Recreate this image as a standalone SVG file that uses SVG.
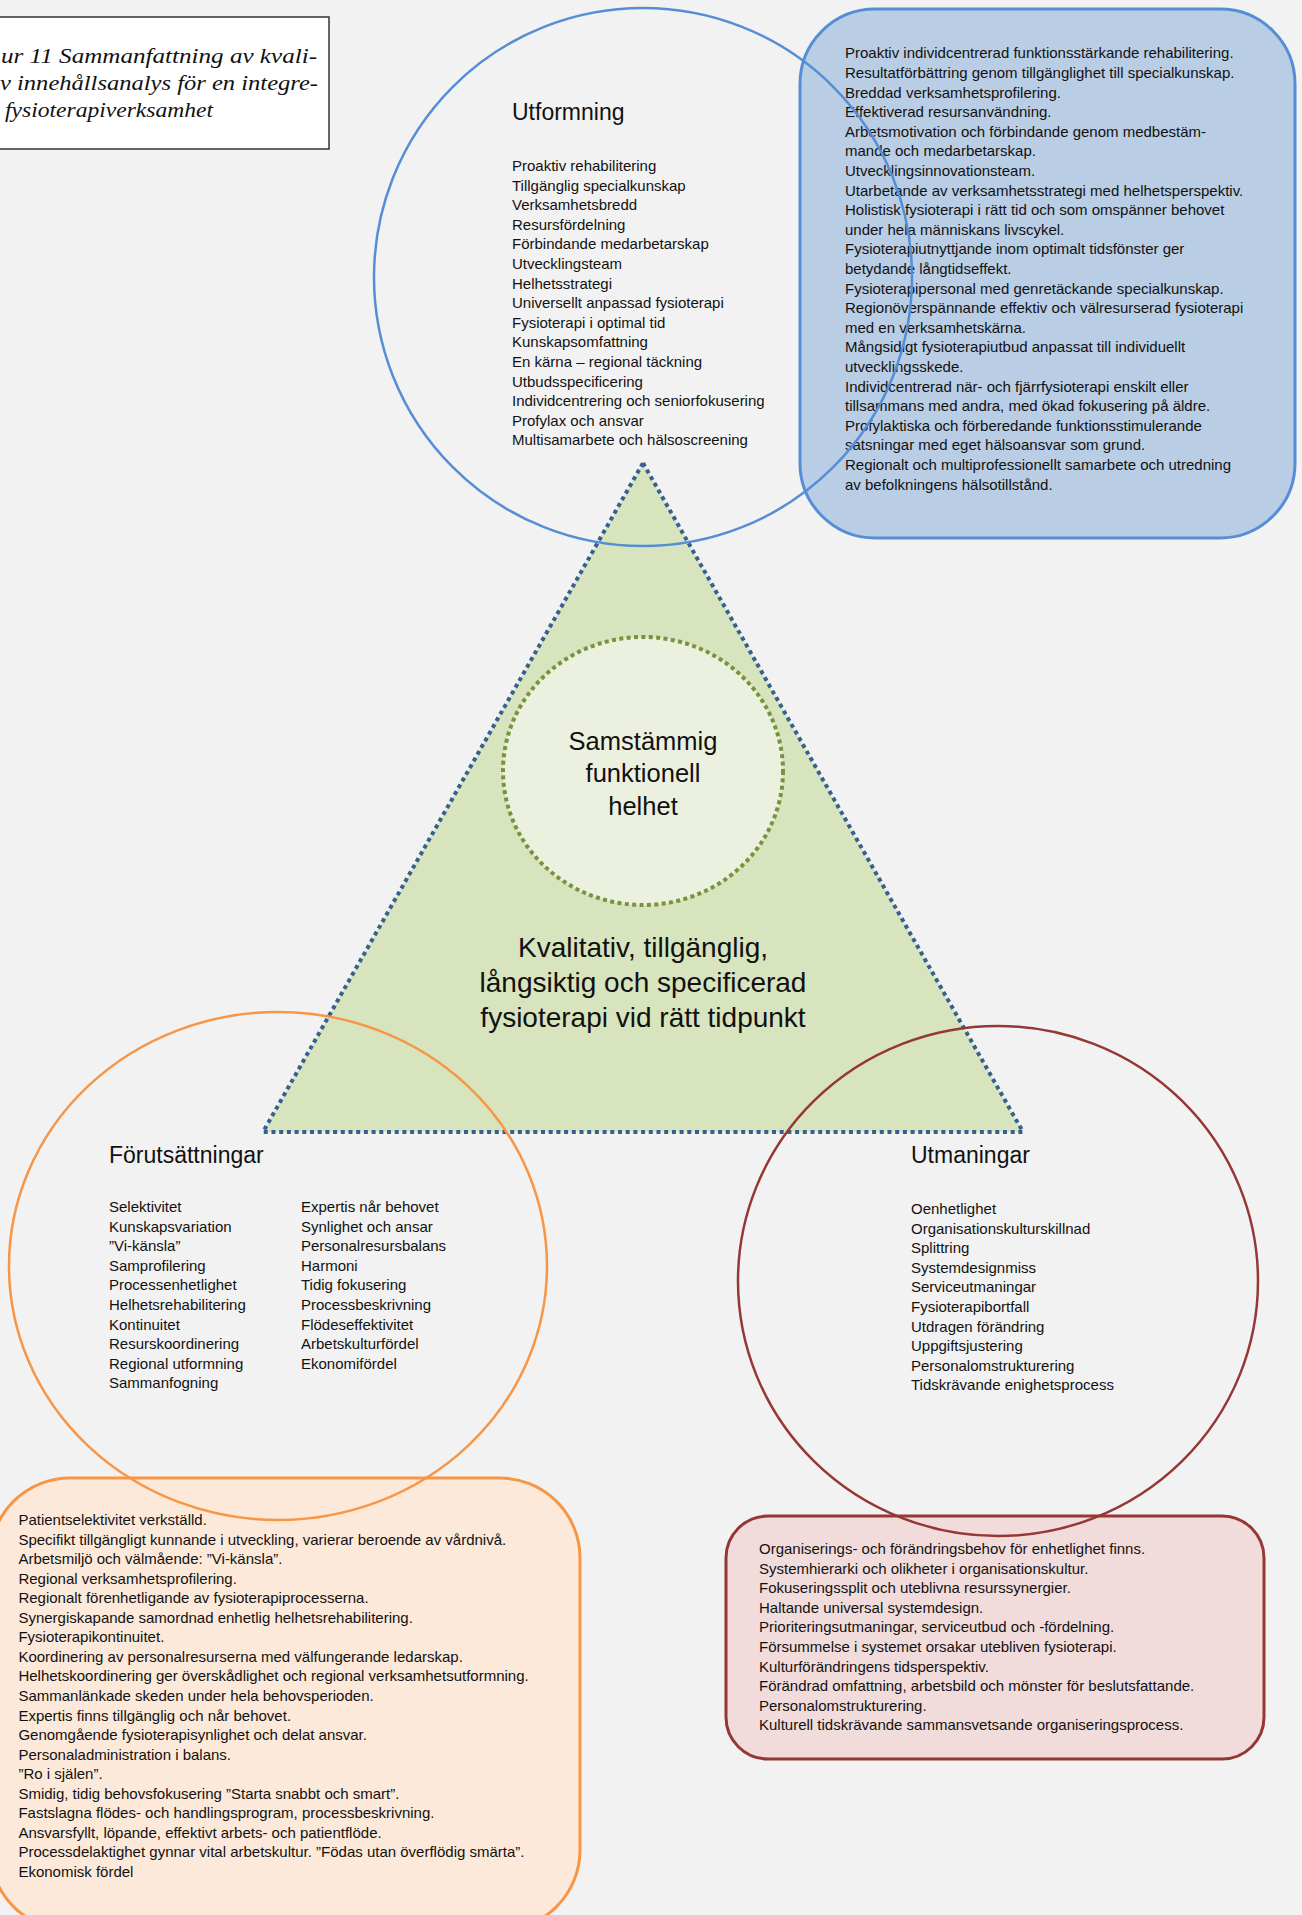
<svg xmlns="http://www.w3.org/2000/svg" width="1302" height="1915" viewBox="0 0 1302 1915">
<style>
.body{font-family:"Liberation Sans",Arial,sans-serif;font-size:15px;fill:#111}
.title{font-family:"Liberation Sans",Arial,sans-serif;font-size:23px;fill:#111}
.big{font-family:"Liberation Sans",Arial,sans-serif;font-size:28px;fill:#111;text-anchor:middle}
.mid{font-family:"Liberation Sans",Arial,sans-serif;font-size:25.5px;fill:#111;text-anchor:middle}
.cap{font-family:"Liberation Serif","Times New Roman",serif;font-style:italic;font-size:22px;fill:#111}
.ring{fill:none;stroke-width:2.5}
</style>
<rect x="0" y="0" width="1302" height="1915" fill="#F2F2F2"/>

<g id="caption">
<rect x="-10" y="17" width="339" height="132" fill="#FFFFFF" stroke="#333333" stroke-width="1.5"/>
<text class="cap" x="1" y="63" textLength="316" lengthAdjust="spacingAndGlyphs">ur 11 Sammanfattning av kvali-</text>
<text class="cap" x="0" y="90" textLength="318" lengthAdjust="spacingAndGlyphs">v innehållsanalys för en integre-</text>
<text class="cap" x="5" y="117" textLength="208" lengthAdjust="spacingAndGlyphs">fysioterapiverksamhet</text>
</g>

<g id="kvalitativ-triangle">
<polygon points="643,463 1023,1132 263,1132" fill="#D7E4BD" stroke="#35608F" stroke-width="4" stroke-dasharray="4 3.7"/>
<text class="big" x="643" y="957">Kvalitativ, tillgänglig,</text>
<text class="big" x="643" y="992">långsiktig och specificerad</text>
<text class="big" x="643" y="1027">fysioterapi vid rätt tidpunkt</text>
</g>

<g id="samstammig-helhet">
<ellipse cx="643" cy="771" rx="140" ry="134" fill="#EBF1DE" stroke="#77933C" stroke-width="4" stroke-dasharray="4 3.4"/>
<text class="mid" x="643" y="750">Samstämmig</text>
<text class="mid" x="643" y="782">funktionell</text>
<text class="mid" x="643" y="815">helhet</text>
</g>

<g id="utformning-detail">
<rect x="800" y="9" width="495" height="529" rx="75" ry="75" fill="#B9CDE5" stroke="#558ED5" stroke-width="3"/>
<text class="body" x="845" y="58.3">
<tspan x="845" dy="0">Proaktiv individcentrerad funktionsstärkande rehabilitering.</tspan>
<tspan x="845" dy="19.6">Resultatförbättring genom tillgänglighet till specialkunskap.</tspan>
<tspan x="845" dy="19.6">Breddad verksamhetsprofilering.</tspan>
<tspan x="845" dy="19.6">Effektiverad resursanvändning.</tspan>
<tspan x="845" dy="19.6">Arbetsmotivation och förbindande genom medbestäm-</tspan>
<tspan x="845" dy="19.6">mande och medarbetarskap.</tspan>
<tspan x="845" dy="19.6">Utvecklingsinnovationsteam.</tspan>
<tspan x="845" dy="19.6">Utarbetande av verksamhetsstrategi med helhetsperspektiv.</tspan>
<tspan x="845" dy="19.6">Holistisk fysioterapi i rätt tid och som omspänner behovet</tspan>
<tspan x="845" dy="19.6">under hela människans livscykel.</tspan>
<tspan x="845" dy="19.6">Fysioterapiutnyttjande inom optimalt tidsfönster ger</tspan>
<tspan x="845" dy="19.6">betydande långtidseffekt.</tspan>
<tspan x="845" dy="19.6">Fysioterapipersonal med genretäckande specialkunskap.</tspan>
<tspan x="845" dy="19.6">Regionöverspännande effektiv och välresurserad fysioterapi</tspan>
<tspan x="845" dy="19.6">med en verksamhetskärna.</tspan>
<tspan x="845" dy="19.6">Mångsidigt fysioterapiutbud anpassat till individuellt</tspan>
<tspan x="845" dy="19.6">utvecklingsskede.</tspan>
<tspan x="845" dy="19.6">Individcentrerad när- och fjärrfysioterapi enskilt eller</tspan>
<tspan x="845" dy="19.6">tillsammans med andra, med ökad fokusering på äldre.</tspan>
<tspan x="845" dy="19.6">Profylaktiska och förberedande funktionsstimulerande</tspan>
<tspan x="845" dy="19.6">satsningar med eget hälsoansvar som grund.</tspan>
<tspan x="845" dy="19.6">Regionalt och multiprofessionellt samarbete och utredning</tspan>
<tspan x="845" dy="19.6">av befolkningens hälsotillstånd.</tspan>
</text>
</g>

<g id="forutsattningar-detail">
<rect x="-10" y="1478" width="590" height="452" rx="80" ry="80" fill="#FDE9D9" stroke="#F79646" stroke-width="3"/>
<text class="body" x="18.4" y="1525">
<tspan x="18.4" dy="0">Patientselektivitet verkställd.</tspan>
<tspan x="18.4" dy="19.55">Specifikt tillgängligt kunnande i utveckling, varierar beroende av vårdnivå.</tspan>
<tspan x="18.4" dy="19.55">Arbetsmiljö och välmående: ”Vi-känsla”.</tspan>
<tspan x="18.4" dy="19.55">Regional verksamhetsprofilering.</tspan>
<tspan x="18.4" dy="19.55">Regionalt förenhetligande av fysioterapiprocesserna.</tspan>
<tspan x="18.4" dy="19.55">Synergiskapande samordnad enhetlig helhetsrehabilitering.</tspan>
<tspan x="18.4" dy="19.55">Fysioterapikontinuitet.</tspan>
<tspan x="18.4" dy="19.55">Koordinering av personalresurserna med välfungerande ledarskap.</tspan>
<tspan x="18.4" dy="19.55">Helhetskoordinering ger överskådlighet och regional verksamhetsutformning.</tspan>
<tspan x="18.4" dy="19.55">Sammanlänkade skeden under hela behovsperioden.</tspan>
<tspan x="18.4" dy="19.55">Expertis finns tillgänglig och når behovet.</tspan>
<tspan x="18.4" dy="19.55">Genomgående fysioterapisynlighet och delat ansvar.</tspan>
<tspan x="18.4" dy="19.55">Personaladministration i balans.</tspan>
<tspan x="18.4" dy="19.55">”Ro i själen”.</tspan>
<tspan x="18.4" dy="19.55">Smidig, tidig behovsfokusering ”Starta snabbt och smart”.</tspan>
<tspan x="18.4" dy="19.55">Fastslagna flödes- och handlingsprogram, processbeskrivning.</tspan>
<tspan x="18.4" dy="19.55">Ansvarsfyllt, löpande, effektivt arbets- och patientflöde.</tspan>
<tspan x="18.4" dy="19.55">Processdelaktighet gynnar vital arbetskultur. ”Födas utan överflödig smärta”.</tspan>
<tspan x="18.4" dy="19.55">Ekonomisk fördel</tspan>
</text>
</g>

<g id="utmaningar-detail">
<rect x="726" y="1516" width="538" height="243" rx="42" ry="42" fill="#F2DCDB" stroke="#953735" stroke-width="3"/>
<text class="body" x="759" y="1554">
<tspan x="759" dy="0">Organiserings- och förändringsbehov för enhetlighet finns.</tspan>
<tspan x="759" dy="19.6">Systemhierarki och olikheter i organisationskultur.</tspan>
<tspan x="759" dy="19.6">Fokuseringssplit och uteblivna resurssynergier.</tspan>
<tspan x="759" dy="19.6">Haltande universal systemdesign.</tspan>
<tspan x="759" dy="19.6">Prioriteringsutmaningar, serviceutbud och -fördelning.</tspan>
<tspan x="759" dy="19.6">Försummelse i systemet orsakar utebliven fysioterapi.</tspan>
<tspan x="759" dy="19.6">Kulturförändringens tidsperspektiv.</tspan>
<tspan x="759" dy="19.6">Förändrad omfattning, arbetsbild och mönster för beslutsfattande.</tspan>
<tspan x="759" dy="19.6">Personalomstrukturering.</tspan>
<tspan x="759" dy="19.6">Kulturell tidskrävande sammansvetsande organiseringsprocess.</tspan>
</text>
</g>

<g id="utformning">
<circle class="ring" cx="643" cy="277" r="269" stroke="#558ED5"/>
<text class="title" x="512" y="120">Utformning</text>
<text class="body" x="512" y="171">
<tspan x="512" dy="0">Proaktiv rehabilitering</tspan>
<tspan x="512" dy="19.6">Tillgänglig specialkunskap</tspan>
<tspan x="512" dy="19.6">Verksamhetsbredd</tspan>
<tspan x="512" dy="19.6">Resursfördelning</tspan>
<tspan x="512" dy="19.6">Förbindande medarbetarskap</tspan>
<tspan x="512" dy="19.6">Utvecklingsteam</tspan>
<tspan x="512" dy="19.6">Helhetsstrategi</tspan>
<tspan x="512" dy="19.6">Universellt anpassad fysioterapi</tspan>
<tspan x="512" dy="19.6">Fysioterapi i optimal tid</tspan>
<tspan x="512" dy="19.6">Kunskapsomfattning</tspan>
<tspan x="512" dy="19.6">En kärna – regional täckning</tspan>
<tspan x="512" dy="19.6">Utbudsspecificering</tspan>
<tspan x="512" dy="19.6">Individcentrering och seniorfokusering</tspan>
<tspan x="512" dy="19.6">Profylax och ansvar</tspan>
<tspan x="512" dy="19.6">Multisamarbete och hälsoscreening</tspan>
</text>
</g>

<g id="forutsattningar">
<ellipse class="ring" cx="278" cy="1266" rx="269" ry="254" stroke="#F79646"/>
<text class="title" x="109" y="1163">Förutsättningar</text>
<text class="body" x="109" y="1212">
<tspan x="109" dy="0">Selektivitet</tspan>
<tspan x="109" dy="19.6">Kunskapsvariation</tspan>
<tspan x="109" dy="19.6">”Vi-känsla”</tspan>
<tspan x="109" dy="19.6">Samprofilering</tspan>
<tspan x="109" dy="19.6">Processenhetlighet</tspan>
<tspan x="109" dy="19.6">Helhetsrehabilitering</tspan>
<tspan x="109" dy="19.6">Kontinuitet</tspan>
<tspan x="109" dy="19.6">Resurskoordinering</tspan>
<tspan x="109" dy="19.6">Regional utformning</tspan>
<tspan x="109" dy="19.6">Sammanfogning</tspan>
</text>
<text class="body" x="301" y="1212">
<tspan x="301" dy="0">Expertis når behovet</tspan>
<tspan x="301" dy="19.6">Synlighet och ansar</tspan>
<tspan x="301" dy="19.6">Personalresursbalans</tspan>
<tspan x="301" dy="19.6">Harmoni</tspan>
<tspan x="301" dy="19.6">Tidig fokusering</tspan>
<tspan x="301" dy="19.6">Processbeskrivning</tspan>
<tspan x="301" dy="19.6">Flödeseffektivitet</tspan>
<tspan x="301" dy="19.6">Arbetskulturfördel</tspan>
<tspan x="301" dy="19.6">Ekonomifördel</tspan>
</text>
</g>

<g id="utmaningar">
<ellipse class="ring" cx="998" cy="1281" rx="260" ry="255" stroke="#953735"/>
<text class="title" x="911" y="1163">Utmaningar</text>
<text class="body" x="911" y="1214">
<tspan x="911" dy="0">Oenhetlighet</tspan>
<tspan x="911" dy="19.6">Organisationskulturskillnad</tspan>
<tspan x="911" dy="19.6">Splittring</tspan>
<tspan x="911" dy="19.6">Systemdesignmiss</tspan>
<tspan x="911" dy="19.6">Serviceutmaningar</tspan>
<tspan x="911" dy="19.6">Fysioterapibortfall</tspan>
<tspan x="911" dy="19.6">Utdragen förändring</tspan>
<tspan x="911" dy="19.6">Uppgiftsjustering</tspan>
<tspan x="911" dy="19.6">Personalomstrukturering</tspan>
<tspan x="911" dy="19.6">Tidskrävande enighetsprocess</tspan>
</text>
</g>

<g id="connectors"></g>
</svg>
